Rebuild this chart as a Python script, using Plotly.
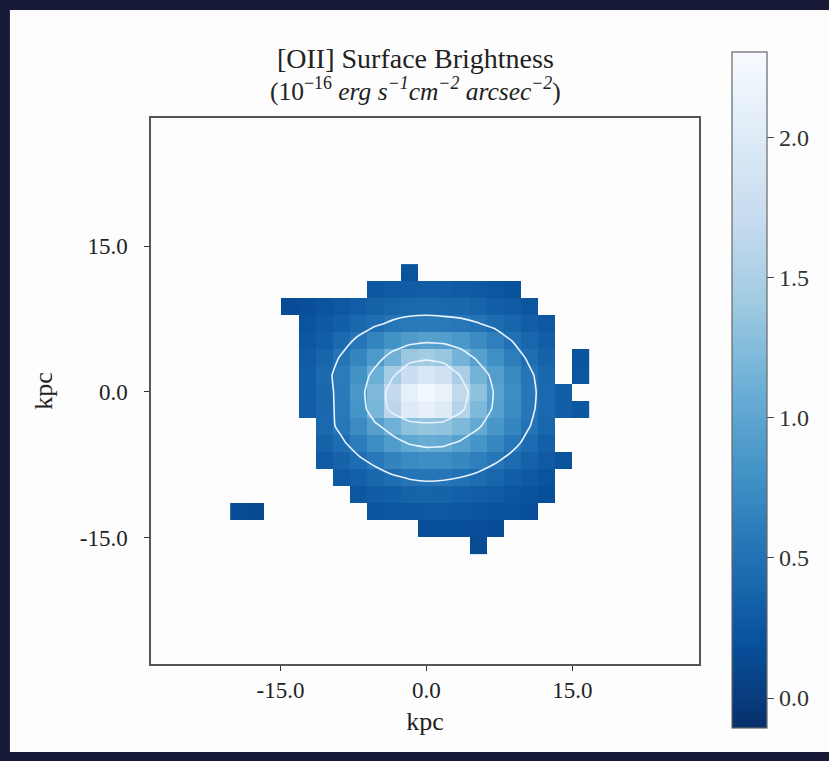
import plotly.graph_objects as go

# ---- data ----
# spaxel centres, kpc
x_kpc = [-19.29, -17.54, -15.79, -14.03, -12.28, -10.52, -8.77, -7.02, -5.26, -3.51,
         -1.75, 0.0, 1.75, 3.51, 5.26, 7.02, 8.77, 10.52, 12.28, 14.03, 15.79]
y_kpc = [12.28, 10.52, 8.77, 7.02, 5.26, 3.51, 1.75, 0.0, -1.75, -3.51,
         -5.26, -7.02, -8.77, -10.52, -12.28, -14.03, -15.79]

N = None
# [OII] surface brightness (1e-16 erg/s/cm2/arcsec2), rows from top to bottom
sb_rows = [
    [N, N, N, N, N, N, N, N, N, N, 0.22, N, N, N, N, N, N, N, N, N, N],
    [N, N, N, N, N, N, N, N, 0.25, 0.28, 0.30, 0.31, 0.31, 0.29, 0.27, 0.24, 0.21, N, N, N, N],
    [N, N, N, 0.15, 0.17, 0.22, 0.26, 0.31, 0.35, 0.39, 0.41, 0.42, 0.41, 0.40, 0.37, 0.33, 0.29, 0.24, N, N, N],
    [N, N, N, N, 0.22, 0.27, 0.33, 0.40, 0.47, 0.53, 0.57, 0.58, 0.57, 0.55, 0.51, 0.45, 0.38, 0.31, 0.26, N, N],
    [N, N, N, N, 0.25, 0.32, 0.42, 0.54, 0.67, 0.80, 0.89, 0.95, 0.93, 0.86, 0.74, 0.62, 0.50, 0.39, 0.31, N, N],
    [N, N, N, N, 0.29, 0.38, 0.52, 0.68, 0.88, 1.12, 1.38, 1.44, 1.36, 1.16, 0.96, 0.78, 0.61, 0.47, 0.36, N, 0.22],
    [N, N, N, N, 0.32, 0.42, 0.59, 0.80, 1.10, 1.45, 1.76, 1.90, 1.82, 1.48, 1.15, 0.92, 0.71, 0.54, 0.40, N, 0.24],
    [N, N, N, N, 0.32, 0.40, 0.58, 0.86, 1.22, 1.68, 2.10, 2.27, 2.14, 1.66, 1.30, 0.97, 0.76, 0.56, 0.42, 0.32, N],
    [N, N, N, N, 0.31, 0.40, 0.57, 0.83, 1.18, 1.62, 2.00, 2.12, 2.02, 1.58, 1.22, 0.95, 0.74, 0.55, 0.41, 0.31, 0.25],
    [N, N, N, N, N, 0.41, 0.55, 0.73, 0.95, 1.12, 1.30, 1.35, 1.32, 1.22, 1.04, 0.85, 0.68, 0.51, 0.39, N, N],
    [N, N, N, N, N, 0.35, 0.46, 0.60, 0.76, 0.90, 1.02, 1.08, 1.06, 0.96, 0.83, 0.69, 0.56, 0.44, 0.34, N, N],
    [N, N, N, N, N, 0.29, 0.36, 0.46, 0.56, 0.66, 0.73, 0.76, 0.75, 0.70, 0.62, 0.53, 0.44, 0.35, 0.28, 0.22, N],
    [N, N, N, N, N, N, 0.28, 0.34, 0.40, 0.47, 0.52, 0.54, 0.53, 0.50, 0.45, 0.39, 0.33, 0.27, 0.22, N, N],
    [N, N, N, N, N, N, N, 0.25, 0.29, 0.33, 0.36, 0.37, 0.36, 0.34, 0.31, 0.28, 0.24, 0.21, 0.18, N, N],
    [0.15, 0.14, N, N, N, N, N, N, 0.22, 0.24, 0.25, 0.26, 0.26, 0.25, 0.23, 0.21, 0.19, 0.17, N, N, N],
    [N, N, N, N, N, N, N, N, N, N, N, 0.18, 0.18, 0.18, 0.17, 0.16, N, N, N, N, N],
    [N, N, N, N, N, N, N, N, N, N, N, N, N, N, 0.15, N, N, N, N, N, N],
]

contour_levels = [0.5, 1.0, 1.5]
axis_ticks = [-15.0, 0.0, 15.0]
axis_ticktext = ["-15.0", "0.0", "15.0"]
cbar_ticks = [0.0, 0.5, 1.0, 1.5, 2.0]
cbar_ticktext = ["0.0", "0.5", "1.0", "1.5", "2.0"]
z_range = [-0.107, 2.305]

title_1 = "[OII] Surface Brightness"
title_2 = "(10<sup>\u221216</sup> <i>erg s<sup>\u22121</sup>cm<sup>\u22122</sup> arcsec<sup>\u22122</sup></i>)"

# ---- figure ----
blues_r = [[0.0, "#08306b"], [0.125, "#08519c"], [0.25, "#2171b5"], [0.375, "#4292c6"],
           [0.5, "#6baed6"], [0.625, "#9ecae1"], [0.75, "#c6dbef"], [0.875, "#deebf7"],
           [1.0, "#f7fbff"]]

z_up = sb_rows[::-1]
y_up = y_kpc[::-1]

FONT = "Liberation Serif, Times New Roman, serif"
BG = "#171b38"
W, H = 829, 761
L, R, T, B = 151, 130.3, 118, 97
pw, ph = W - L - R, H - T - B


def px(xp):
    return (xp - L) / pw


def py(yp):
    return (H - B - yp) / ph


fig = go.Figure()
fig.add_trace(go.Heatmap(
    x=x_kpc, y=y_up, z=z_up, colorscale=blues_r, zmin=z_range[0], zmax=z_range[1],
    hoverongaps=False,
    colorbar=dict(
        x=px(732), xanchor="left", xpad=0, ypad=0,
        y=py(390), yanchor="middle", len=676 / ph, lenmode="fraction",
        thickness=35, thicknessmode="pixels",
        outlinewidth=1.2, outlinecolor="#666666",
        tickvals=cbar_ticks, ticktext=cbar_ticktext,
        ticks="outside", ticklen=7, tickwidth=1.2, tickcolor="#444444",
        tickfont=dict(family=FONT, size=24, color="#333333"),
    ),
))
fig.add_trace(go.Contour(
    x=x_kpc, y=y_up, z=z_up,
    contours=dict(coloring="none", start=contour_levels[0], end=contour_levels[-1],
                  size=contour_levels[1] - contour_levels[0], showlabels=False),
    line=dict(color="#e8f3ff", width=1.6, smoothing=0.4),
    showscale=False, hoverinfo="skip",
))

axis_common = dict(
    tickvals=axis_ticks, ticktext=axis_ticktext,
    ticks="outside", ticklen=5, tickwidth=1.2, tickcolor="#333333",
    showline=True, linecolor="#555555", linewidth=1.5, mirror=True,
    showgrid=False, zeroline=False,
    tickfont=dict(family=FONT, size=23, color="#222222"),
    title_font=dict(family=FONT, size=26, color="#222222"),
)

fig.update_layout(
    width=W, height=H,
    margin=dict(l=L, r=R, t=T, b=B, autoexpand=False),
    paper_bgcolor=BG,
    plot_bgcolor="#ffffff",
    showlegend=False,
    xaxis=dict(range=[-28.3, 28.0], title=dict(text="kpc", standoff=9), **axis_common),
    yaxis=dict(range=[-28.0, 28.2], title=dict(text="kpc", standoff=20),
               ticklabelstandoff=12, **axis_common),
    shapes=[dict(type="rect", xref="paper", yref="paper",
                 x0=px(10), x1=px(829), y0=py(752), y1=py(10),
                 fillcolor="#fdfdfd", line=dict(width=0), layer="below")],
    annotations=[
        dict(text=title_1, xref="paper", yref="paper", x=px(415), y=py(59),
             xanchor="center", yanchor="middle", showarrow=False,
             font=dict(family=FONT, size=28, color="#222222")),
        dict(text=title_2, xref="paper", yref="paper", x=px(415), y=py(90),
             xanchor="center", yanchor="middle", showarrow=False,
             font=dict(family=FONT, size=25.5, color="#222222")),
    ],
)

fig.write_html(
    "out.html",
    config={"displayModeBar": False},
    post_script=("document.body.style.margin='0px';"
                 "document.body.style.overflow='hidden';"
                 "document.body.style.background='" + BG + "';"),
)
